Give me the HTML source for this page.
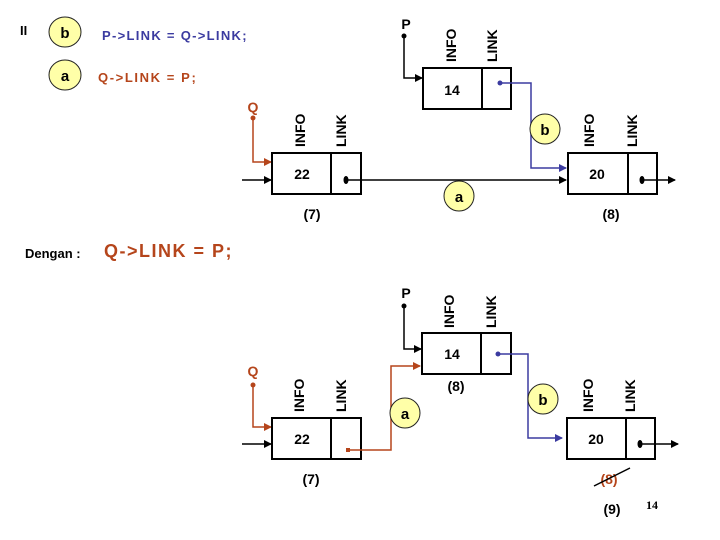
<!DOCTYPE html>
<html><head><meta charset="utf-8"><style>
html,body{margin:0;padding:0;background:#fff;}
svg{display:block;}
text{font-family:"Liberation Sans",sans-serif;font-weight:bold;}
</style></head><body>
<svg width="720" height="540" viewBox="0 0 720 540" xmlns="http://www.w3.org/2000/svg">
<defs>
<marker id="ak" markerWidth="8" markerHeight="8" refX="7" refY="4" orient="auto" markerUnits="userSpaceOnUse"><path d="M0,0 L8,4 L0,8 z" fill="#000"/></marker>
<marker id="ab" markerWidth="8" markerHeight="8" refX="7" refY="4" orient="auto" markerUnits="userSpaceOnUse"><path d="M0,0 L8,4 L0,8 z" fill="#3b3ba0"/></marker>
<marker id="ar" markerWidth="8" markerHeight="8" refX="7" refY="4" orient="auto" markerUnits="userSpaceOnUse"><path d="M0,0 L8,4 L0,8 z" fill="#b5451b"/></marker>
</defs>
<g fill="none" stroke-width="2">
<!-- top section -->
<text x="20" y="35" font-size="13" fill="#000" stroke="none">II</text>
<ellipse cx="65" cy="32" rx="16" ry="15" fill="#ffffa8" stroke="#222" stroke-width="1"/>
<text x="65" y="38" font-size="15" text-anchor="middle" fill="#000" stroke="none">b</text>
<ellipse cx="65" cy="75" rx="16" ry="15" fill="#ffffa8" stroke="#222" stroke-width="1"/>
<text x="65" y="81" font-size="15" text-anchor="middle" fill="#000" stroke="none">a</text>
<text x="102" y="40" font-size="13" fill="#3b3ba0" stroke="none" font-weight="normal" letter-spacing="1.3">P-&gt;LINK = Q-&gt;LINK;</text>
<text x="98" y="82" font-size="13" fill="#b5451b" stroke="none" font-weight="normal" letter-spacing="1.6">Q-&gt;LINK = P;</text>

<!-- box 14 top -->
<text x="406" y="29" font-size="14" text-anchor="middle" fill="#000" stroke="none">P</text>
<circle cx="404" cy="36" r="2.5" fill="#000" stroke="none"/>
<polyline points="404,36 404,78 422,78" stroke="#000" stroke-width="1.5" marker-end="url(#ak)"/>
<rect x="423" y="68" width="88" height="41" stroke="#000"/>
<line x1="482" y1="68" x2="482" y2="109" stroke="#000"/>
<text x="452" y="95" font-size="14" text-anchor="middle" fill="#000" stroke="none" font-weight="normal">14</text>
<text transform="translate(456,62) rotate(-90)" font-size="14" fill="#000" stroke="none" font-weight="normal">INFO</text>
<text transform="translate(497,62) rotate(-90)" font-size="14" fill="#000" stroke="none" font-weight="normal">LINK</text>
<circle cx="500" cy="83" r="2.5" fill="#3b3ba0" stroke="none"/>
<polyline points="500,83 531,83 531,168 566,168" stroke="#3b3ba0" stroke-width="1.5" marker-end="url(#ab)"/>
<ellipse cx="545" cy="129" rx="15" ry="15" fill="#ffffa8" stroke="#222" stroke-width="1"/>
<text x="545" y="135" font-size="15" text-anchor="middle" fill="#000" stroke="none">b</text>

<!-- box 22 top -->
<text x="253" y="112" font-size="14" text-anchor="middle" fill="#b5451b" stroke="none">Q</text>
<circle cx="253" cy="118" r="2.5" fill="#b5451b" stroke="none"/>
<polyline points="253,118 253,162 271,162" stroke="#b5451b" stroke-width="1.5" marker-end="url(#ar)"/>
<line x1="242" y1="180" x2="271" y2="180" stroke="#000" stroke-width="1.5" marker-end="url(#ak)"/>
<rect x="272" y="153" width="89" height="41" stroke="#000"/>
<line x1="331" y1="153" x2="331" y2="194" stroke="#000"/>
<text x="302" y="179" font-size="14" text-anchor="middle" fill="#000" stroke="none" font-weight="normal">22</text>
<text transform="translate(305,147) rotate(-90)" font-size="14" fill="#000" stroke="none" font-weight="normal">INFO</text>
<text transform="translate(346,147) rotate(-90)" font-size="14" fill="#000" stroke="none" font-weight="normal">LINK</text>
<ellipse cx="346" cy="180" rx="2.5" ry="4" fill="#000" stroke="none"/>
<line x1="346" y1="180" x2="566" y2="180" stroke="#000" stroke-width="1.5" marker-end="url(#ak)"/>
<ellipse cx="459" cy="196" rx="15" ry="15" fill="#ffffa8" stroke="#222" stroke-width="1"/>
<text x="459" y="202" font-size="15" text-anchor="middle" fill="#000" stroke="none">a</text>
<text x="312" y="219" font-size="14" text-anchor="middle" fill="#000" stroke="none">(7)</text>

<!-- box 20 top -->
<rect x="568" y="153" width="89" height="41" stroke="#000"/>
<line x1="628" y1="153" x2="628" y2="194" stroke="#000"/>
<text x="597" y="179" font-size="14" text-anchor="middle" fill="#000" stroke="none" font-weight="normal">20</text>
<text transform="translate(594,147) rotate(-90)" font-size="14" fill="#000" stroke="none" font-weight="normal">INFO</text>
<text transform="translate(637,147) rotate(-90)" font-size="14" fill="#000" stroke="none" font-weight="normal">LINK</text>
<ellipse cx="642" cy="180" rx="2.5" ry="4" fill="#000" stroke="none"/>
<line x1="642" y1="180" x2="675" y2="180" stroke="#000" stroke-width="1.5" marker-end="url(#ak)"/>
<text x="611" y="219" font-size="14" text-anchor="middle" fill="#000" stroke="none">(8)</text>

<text x="25" y="258" font-size="13" fill="#000" stroke="none">Dengan :</text>
<text x="104" y="257" font-size="18" fill="#b5451b" stroke="none" font-weight="normal" letter-spacing="1.5">Q-&gt;LINK = P;</text>

<!-- bottom section -->
<text x="406" y="298" font-size="14" text-anchor="middle" fill="#000" stroke="none">P</text>
<circle cx="404" cy="306" r="2.5" fill="#000" stroke="none"/>
<polyline points="404,306 404,349 421,349" stroke="#000" stroke-width="1.5" marker-end="url(#ak)"/>
<rect x="422" y="333" width="89" height="41" stroke="#000"/>
<line x1="481" y1="333" x2="481" y2="374" stroke="#000"/>
<text x="452" y="359" font-size="14" text-anchor="middle" fill="#000" stroke="none" font-weight="normal">14</text>
<text transform="translate(454,328) rotate(-90)" font-size="14" fill="#000" stroke="none" font-weight="normal">INFO</text>
<text transform="translate(496,328) rotate(-90)" font-size="14" fill="#000" stroke="none" font-weight="normal">LINK</text>
<text x="456" y="391" font-size="14" text-anchor="middle" fill="#000" stroke="none">(8)</text>
<circle cx="498" cy="354" r="2.5" fill="#3b3ba0" stroke="none"/>
<polyline points="498,354 528,354 528,438 562,438" stroke="#3b3ba0" stroke-width="1.5" marker-end="url(#ab)"/>
<ellipse cx="543" cy="399" rx="15" ry="15" fill="#ffffa8" stroke="#222" stroke-width="1"/>
<text x="543" y="405" font-size="15" text-anchor="middle" fill="#000" stroke="none">b</text>

<text x="253" y="376" font-size="14" text-anchor="middle" fill="#b5451b" stroke="none">Q</text>
<circle cx="253" cy="385" r="2.5" fill="#b5451b" stroke="none"/>
<polyline points="253,385 253,427 271,427" stroke="#b5451b" stroke-width="1.5" marker-end="url(#ar)"/>
<line x1="242" y1="444" x2="271" y2="444" stroke="#000" stroke-width="1.5" marker-end="url(#ak)"/>
<rect x="272" y="418" width="89" height="41" stroke="#000"/>
<line x1="331" y1="418" x2="331" y2="459" stroke="#000"/>
<text x="302" y="444" font-size="14" text-anchor="middle" fill="#000" stroke="none" font-weight="normal">22</text>
<text transform="translate(304,412) rotate(-90)" font-size="14" fill="#000" stroke="none" font-weight="normal">INFO</text>
<text transform="translate(346,412) rotate(-90)" font-size="14" fill="#000" stroke="none" font-weight="normal">LINK</text>
<rect x="346" y="448" width="4" height="4" fill="#b5451b" stroke="none"/>
<polyline points="348,450 391,450 391,366 420,366" stroke="#b5451b" stroke-width="1.5" marker-end="url(#ar)"/>
<ellipse cx="405" cy="413" rx="15" ry="15" fill="#ffffa8" stroke="#222" stroke-width="1"/>
<text x="405" y="419" font-size="15" text-anchor="middle" fill="#000" stroke="none">a</text>
<text x="311" y="484" font-size="14" text-anchor="middle" fill="#000" stroke="none">(7)</text>

<rect x="567" y="418" width="88" height="41" stroke="#000"/>
<line x1="626" y1="418" x2="626" y2="459" stroke="#000"/>
<text x="596" y="444" font-size="14" text-anchor="middle" fill="#000" stroke="none" font-weight="normal">20</text>
<text transform="translate(593,412) rotate(-90)" font-size="14" fill="#000" stroke="none" font-weight="normal">INFO</text>
<text transform="translate(635,412) rotate(-90)" font-size="14" fill="#000" stroke="none" font-weight="normal">LINK</text>
<ellipse cx="640" cy="444" rx="2.5" ry="4" fill="#000" stroke="none"/>
<line x1="640" y1="444" x2="678" y2="444" stroke="#000" stroke-width="1.5" marker-end="url(#ak)"/>
<text x="609" y="484" font-size="14" text-anchor="middle" fill="#b5451b" stroke="none">(8)</text>
<line x1="594" y1="486" x2="630" y2="468" stroke="#000" stroke-width="1.5"/>
<text x="612" y="514" font-size="14" text-anchor="middle" fill="#000" stroke="none">(9)</text>
<text x="652" y="509" font-size="12" text-anchor="middle" fill="#000" stroke="none" font-weight="normal" style="font-family:'Liberation Serif',serif">14</text>
</g>
</svg>
</body></html>
